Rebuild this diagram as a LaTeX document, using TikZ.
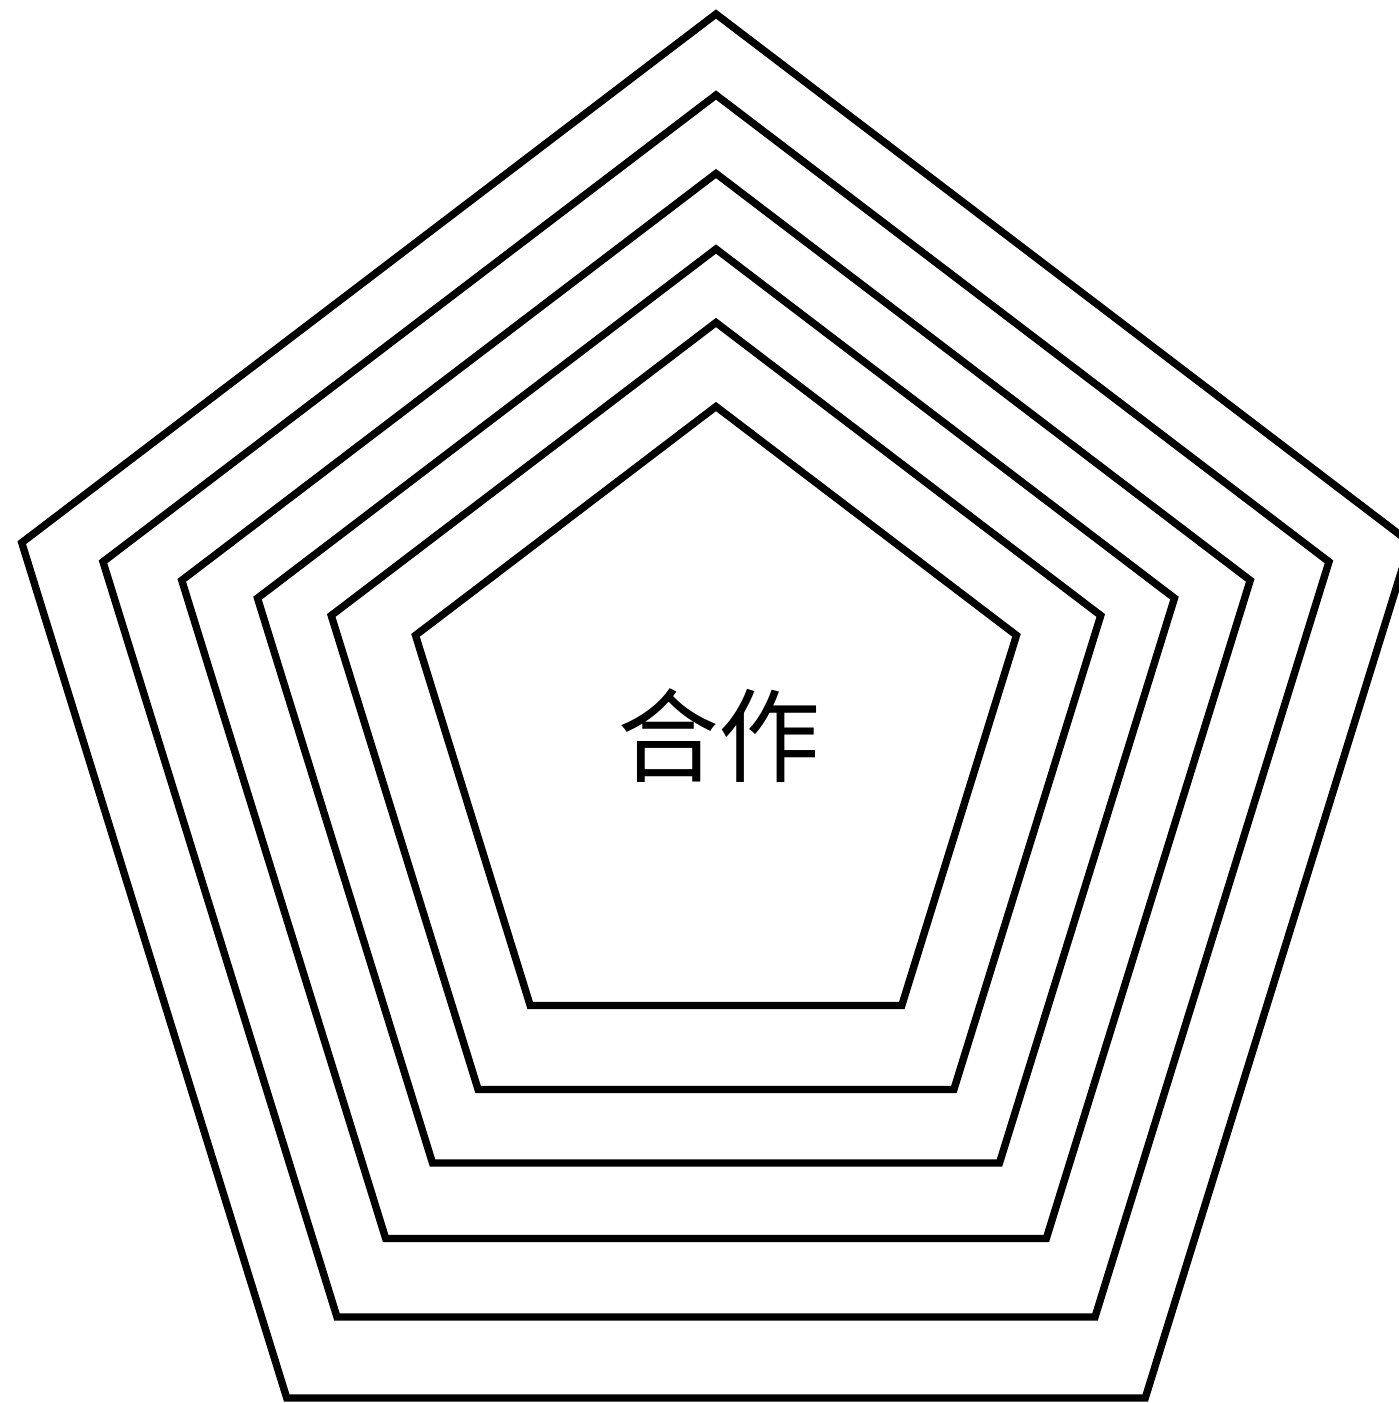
\documentclass[tikz,border=0pt]{standalone}
\usepackage{fontspec}
\newfontfamily\cjk{Noto Sans CJK SC}
\usetikzlibrary{calc}
\tikzstyle{ring} = [draw=black, line width=2.1pt, miter limit=10]
\tikzstyle{label} = [font=\cjk\fontsize{29pt}{29pt}\selectfont, inner sep=0pt]
\begin{document}
\begin{tikzpicture}[x=0.1mm,y=-0.1mm]
  \useasboundingbox (0,0) rectangle (1399,1403);
  \coordinate (mid) at (716,706);
  \foreach \h [count=\i] in {1384,1222,1065,914,767,599} {
    \pgfmathsetmacro\ry{\h/1.809}
    \pgfmathsetmacro\rx{\ry/1.048}
    \draw[ring] ($(mid)+(0,-\h/2)$) coordinate (top\i)
      -- ($(top\i)+(0.951*\rx,0.691*\ry)$) coordinate (right\i)
      -- ($(mid)+(0.588*\rx,\h/2)$) coordinate (br\i)
      -- ($(mid)+(-0.588*\rx,\h/2)$) coordinate (bl\i)
      -- ($(top\i)+(-0.951*\rx,0.691*\ry)$) coordinate (left\i)
      -- cycle;
  }
  \node (word)[label] at (719,736) {合作};
\end{tikzpicture}
\end{document}
